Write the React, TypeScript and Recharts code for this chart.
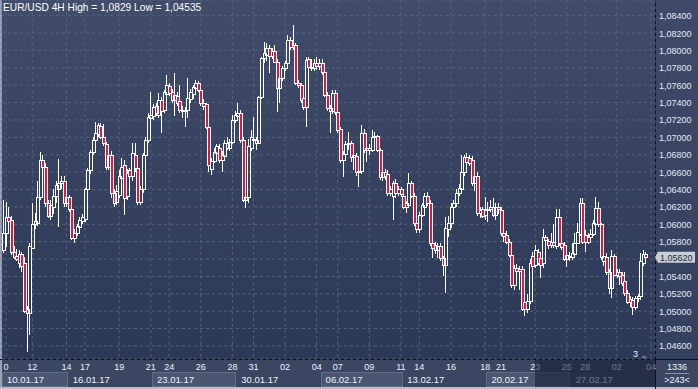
import React from "react";
import { ComposedChart, Bar, XAxis, YAxis, CartesianGrid, ReferenceLine } from "recharts";

// EUR/USD 4H candles, 10.01.17 .. 03.03.17
const opens = [
  1.0570, 1.0590, 1.0608, 1.0605, 1.0568, 1.0564, 1.0556, 1.0566, 1.0555, 1.0502,
  1.0498, 1.0573, 1.0600, 1.0602, 1.0631, 1.0674, 1.0666, 1.0625, 1.0610, 1.0620,
  1.0632, 1.0640, 1.0648, 1.0650, 1.0625, 1.0631, 1.0617, 1.0584, 1.0590, 1.0597,
  1.0604, 1.0606, 1.0640, 1.0662, 1.0683, 1.0697, 1.0704, 1.0713, 1.0700, 1.0692,
  1.0666, 1.0680, 1.0636, 1.0626, 1.0634, 1.0653, 1.0668, 1.0632, 1.0662, 1.0655,
  1.0680, 1.0665, 1.0626, 1.0640, 1.0680, 1.0697, 1.0722, 1.0724, 1.0736, 1.0726,
  1.0743, 1.0731, 1.0750, 1.0759, 1.0752, 1.0743, 1.0748, 1.0742, 1.0730, 1.0730,
  1.0731, 1.0744, 1.0750, 1.0757, 1.0763, 1.0755, 1.0740, 1.0738, 1.0712, 1.0664,
  1.0673, 1.0682, 1.0688, 1.0674, 1.0678, 1.0693, 1.0688, 1.0695, 1.0720, 1.0725,
  1.0728, 1.0697, 1.0628, 1.0631, 1.0688, 1.0698, 1.0697, 1.0694, 1.0746, 1.0791,
  1.0795, 1.0803, 1.0794, 1.0799, 1.0787, 1.0757, 1.0768, 1.0780, 1.0785, 1.0812,
  1.0804, 1.0806, 1.0763, 1.0760, 1.0745, 1.0735, 1.0790, 1.0781, 1.0780,
  1.0786, 1.0782, 1.0786, 1.0775, 1.0749, 1.0734, 1.0730, 1.0751, 1.0729, 1.0710,
  1.0674, 1.0681, 1.0692, 1.0694, 1.0677, 1.0679, 1.0660, 1.0661, 1.0705, 1.0685,
  1.0688, 1.0686, 1.0700, 1.0701, 1.0686, 1.0654, 1.0660, 1.0658, 1.0636, 1.0632,
  1.0648, 1.0636, 1.0640, 1.0632, 1.0620, 1.0622, 1.0647, 1.0633, 1.0602, 1.0594,
  1.0611, 1.0620, 1.0632, 1.0625, 1.0578, 1.0576, 1.0570, 1.0575, 1.0561, 1.0553,
  1.0595, 1.0601, 1.0620, 1.0624, 1.0636, 1.0640, 1.0660, 1.0677, 1.0676, 1.0674,
  1.0647, 1.0655, 1.0613, 1.0617, 1.0611, 1.0616, 1.0618, 1.0620, 1.0611, 1.0620,
  1.0616, 1.0590, 1.0588, 1.0580, 1.0565, 1.0530, 1.0550, 1.0546, 1.0548, 1.0510,
  1.0502, 1.0512, 1.0564, 1.0553, 1.0568, 1.0561, 1.0555, 1.0585, 1.0581, 1.0576,
  1.0580, 1.0575, 1.0608, 1.0578, 1.0576, 1.0560, 1.0564, 1.0562, 1.0566, 1.0579,
  1.0589, 1.0624, 1.0588, 1.0580, 1.0585, 1.0589, 1.0600, 1.0619, 1.0600, 1.0558,
  1.0562, 1.0545, 1.0527, 1.0563, 1.0542, 1.0545, 1.0542, 1.0535, 1.0521, 1.0511,
  1.0513, 1.0505, 1.0515, 1.0517, 1.0556, 1.0566,
];
const highs = [
  1.0628, 1.0626, 1.0620, 1.0610, 1.0575, 1.0572, 1.0570, 1.0568, 1.0562, 1.0506,
  1.0578, 1.0625, 1.0613, 1.0650, 1.0683, 1.0680, 1.0670, 1.0628, 1.0628, 1.0640,
  1.0650, 1.0675, 1.0655, 1.0655, 1.0635, 1.0634, 1.0620, 1.0595, 1.0600, 1.0608,
  1.0612, 1.0642, 1.0665, 1.0686, 1.0700, 1.0718, 1.0717, 1.0716, 1.0715, 1.0695,
  1.0690, 1.0684, 1.0640, 1.0645, 1.0662, 1.0676, 1.0674, 1.0664, 1.0665, 1.0693,
  1.0693, 1.0668, 1.0644, 1.0682, 1.0700, 1.0728, 1.0752, 1.0738, 1.0740, 1.0751,
  1.0746, 1.0755, 1.0772, 1.0763, 1.0756, 1.0774, 1.0752, 1.0760, 1.0736, 1.0735,
  1.0768, 1.0756, 1.0760, 1.0766, 1.0765, 1.0757, 1.0744, 1.0740, 1.0714, 1.0676,
  1.0688, 1.0692, 1.0692, 1.0684, 1.0697, 1.0700, 1.0698, 1.0726, 1.0730, 1.0740,
  1.0731, 1.0700, 1.0634, 1.0698, 1.0708, 1.0723, 1.0700, 1.0748, 1.0793, 1.0810,
  1.0808, 1.0806, 1.0803, 1.0806, 1.0790, 1.0770, 1.0782, 1.0788, 1.0818, 1.0815,
  1.0829, 1.0808, 1.0766, 1.0762, 1.0748, 1.0793, 1.0792, 1.0790, 1.0790,
  1.0792, 1.0790, 1.0790, 1.0778, 1.0752, 1.0737, 1.0755, 1.0754, 1.0731, 1.0712,
  1.0684, 1.0696, 1.0706, 1.0696, 1.0690, 1.0682, 1.0664, 1.0714, 1.0710, 1.0694,
  1.0692, 1.0708, 1.0706, 1.0703, 1.0688, 1.0664, 1.0664, 1.0663, 1.0644, 1.0650,
  1.0652, 1.0644, 1.0643, 1.0634, 1.0627, 1.0659, 1.0650, 1.0636, 1.0605, 1.0614,
  1.0625, 1.0636, 1.0637, 1.0628, 1.0585, 1.0580, 1.0578, 1.0578, 1.0564, 1.0608,
  1.0610, 1.0625, 1.0628, 1.0640, 1.0646, 1.0680, 1.0680, 1.0682, 1.0680, 1.0678,
  1.0666, 1.0660, 1.0620, 1.0620, 1.0631, 1.0626, 1.0628, 1.0630, 1.0625, 1.0625,
  1.0620, 1.0594, 1.0592, 1.0583, 1.0567, 1.0553, 1.0554, 1.0552, 1.0552, 1.0514,
  1.0520, 1.0560, 1.0568, 1.0576, 1.0572, 1.0566, 1.0595, 1.0588, 1.0583, 1.0590,
  1.0600, 1.0618, 1.0618, 1.0581, 1.0580, 1.0567, 1.0568, 1.0578, 1.0590, 1.0601,
  1.0630, 1.0630, 1.0593, 1.0590, 1.0595, 1.0605, 1.0631, 1.0626, 1.0602, 1.0570,
  1.0567, 1.0548, 1.0570, 1.0566, 1.0549, 1.0548, 1.0545, 1.0545, 1.0524, 1.0517,
  1.0516, 1.0518, 1.0520, 1.0567, 1.0570, 1.0568,
];
const lows = [
  1.0567, 1.0574, 1.0598, 1.0565, 1.0560, 1.0558, 1.0550, 1.0545, 1.0498, 1.04535,
  1.0473, 1.0572, 1.0594, 1.0598, 1.0628, 1.0660, 1.0620, 1.0607, 1.0605, 1.0612,
  1.0625, 1.0597, 1.0640, 1.0620, 1.0620, 1.0614, 1.0582, 1.0578, 1.0586, 1.0590,
  1.0600, 1.0603, 1.0636, 1.0658, 1.0680, 1.0692, 1.0700, 1.0698, 1.0690, 1.0662,
  1.0662, 1.0630, 1.0620, 1.0622, 1.0630, 1.0648, 1.0611, 1.0628, 1.0650, 1.0650,
  1.0660, 1.0622, 1.0622, 1.0636, 1.0676, 1.0694, 1.0705, 1.0720, 1.0725, 1.0722,
  1.0705, 1.0728, 1.0746, 1.0748, 1.0740, 1.0724, 1.0736, 1.0728, 1.0722, 1.0712,
  1.0722, 1.0740, 1.0744, 1.0754, 1.0752, 1.0736, 1.0732, 1.0710, 1.0660, 1.0657,
  1.0670, 1.0672, 1.0671, 1.0660, 1.0674, 1.0685, 1.0684, 1.0692, 1.0716, 1.0720,
  1.0694, 1.0626, 1.0619, 1.0624, 1.0684, 1.0690, 1.0685, 1.0692, 1.0744, 1.0786,
  1.0788, 1.0774, 1.0790, 1.0785, 1.0729, 1.0740, 1.0765, 1.0776, 1.0782, 1.0801,
  1.0800, 1.0760, 1.0757, 1.0740, 1.0732, 1.0712, 1.0778, 1.0776, 1.0776,
  1.0778, 1.0778, 1.0772, 1.0746, 1.0730, 1.0705, 1.0727, 1.0726, 1.0705, 1.0670,
  1.0654, 1.0678, 1.0686, 1.0672, 1.0663, 1.0656, 1.0643, 1.0658, 1.0682, 1.0672,
  1.0680, 1.0683, 1.0690, 1.0683, 1.0651, 1.0650, 1.0651, 1.0633, 1.0632, 1.0605,
  1.0630, 1.0632, 1.0631, 1.0617, 1.0613, 1.0619, 1.0630, 1.0598, 1.0590, 1.0590,
  1.0608, 1.0616, 1.0621, 1.0575, 1.0561, 1.0566, 1.0561, 1.0558, 1.0541, 1.0521,
  1.0585, 1.0596, 1.0605, 1.0620, 1.0632, 1.0636, 1.0656, 1.0668, 1.0667, 1.0644,
  1.0638, 1.0610, 1.0607, 1.0607, 1.0605, 1.0603, 1.0614, 1.0608, 1.0605, 1.0612,
  1.0587, 1.0580, 1.0577, 1.0562, 1.0527, 1.0524, 1.0540, 1.0524, 1.0500, 1.0494,
  1.0498, 1.0508, 1.0537, 1.0550, 1.0553, 1.0538, 1.0550, 1.0578, 1.0572, 1.0573,
  1.0573, 1.0571, 1.0575, 1.0570, 1.0558, 1.0551, 1.0558, 1.0559, 1.0563, 1.0577,
  1.0586, 1.0577, 1.0568, 1.0577, 1.0582, 1.0586, 1.0596, 1.0597, 1.0559, 1.0552,
  1.0542, 1.0520, 1.0515, 1.0540, 1.0538, 1.0530, 1.0529, 1.0518, 1.0508, 1.0505,
  1.0496, 1.0501, 1.0511, 1.0513, 1.0552, 1.0559,
];
const closes = [
  1.0590, 1.0608, 1.0604, 1.0568, 1.0562, 1.0560, 1.0566, 1.0552, 1.0500, 1.0498,
  1.0575, 1.0600, 1.0604, 1.0631, 1.0674, 1.0666, 1.0625, 1.0610, 1.0622, 1.0632,
  1.0645, 1.0648, 1.0650, 1.0625, 1.0631, 1.0617, 1.0584, 1.0590, 1.0598, 1.0605,
  1.0608, 1.0640, 1.0662, 1.0683, 1.0697, 1.0705, 1.0714, 1.0700, 1.0694, 1.0666,
  1.0680, 1.0636, 1.0624, 1.0638, 1.0655, 1.0666, 1.0630, 1.0659, 1.0655, 1.0682,
  1.0665, 1.0626, 1.0640, 1.0680, 1.0697, 1.0723, 1.0726, 1.0735, 1.0728, 1.0743,
  1.0730, 1.0752, 1.0760, 1.0751, 1.0743, 1.0749, 1.0740, 1.0732, 1.0731, 1.0732,
  1.0745, 1.0752, 1.0758, 1.0763, 1.0755, 1.0739, 1.0736, 1.0712, 1.0668, 1.0673,
  1.0683, 1.0690, 1.0674, 1.0680, 1.0694, 1.0688, 1.0695, 1.0720, 1.0726, 1.0728,
  1.0697, 1.0628, 1.0631, 1.0690, 1.0700, 1.0697, 1.0694, 1.0746, 1.0791, 1.0797,
  1.0803, 1.0794, 1.0799, 1.0787, 1.0757, 1.0768, 1.0780, 1.0785, 1.0812, 1.0804,
  1.0806, 1.0763, 1.0760, 1.0743, 1.0735, 1.0789, 1.0781, 1.0780, 1.0786,
  1.0782, 1.0786, 1.0775, 1.0749, 1.0734, 1.0730, 1.0751, 1.0729, 1.0708, 1.0674,
  1.0681, 1.0692, 1.0694, 1.0677, 1.0680, 1.0660, 1.0661, 1.0705, 1.0685, 1.0688,
  1.0686, 1.0700, 1.0701, 1.0686, 1.0654, 1.0660, 1.0655, 1.0636, 1.0640, 1.0647,
  1.0636, 1.0640, 1.0635, 1.0620, 1.0624, 1.0647, 1.0633, 1.0602, 1.0594, 1.0611,
  1.0622, 1.0632, 1.0625, 1.0578, 1.0573, 1.0570, 1.0575, 1.0561, 1.0553, 1.0596,
  1.0601, 1.0620, 1.0625, 1.0636, 1.0642, 1.0660, 1.0677, 1.0672, 1.0670, 1.0647,
  1.0655, 1.0613, 1.0616, 1.0610, 1.0616, 1.0618, 1.0620, 1.0611, 1.0620, 1.0618,
  1.0590, 1.0586, 1.0580, 1.0565, 1.0530, 1.0550, 1.0546, 1.0548, 1.0502, 1.0502,
  1.0512, 1.0555, 1.0552, 1.0570, 1.0556, 1.0553, 1.0585, 1.0582, 1.0576, 1.0580,
  1.0576, 1.0608, 1.0578, 1.0574, 1.0560, 1.0565, 1.0562, 1.0567, 1.0579, 1.0591,
  1.0624, 1.0580, 1.0580, 1.0585, 1.0589, 1.0602, 1.0619, 1.0600, 1.0562, 1.0564,
  1.0545, 1.0527, 1.0563, 1.0542, 1.0545, 1.0540, 1.0532, 1.0521, 1.0511, 1.0514,
  1.0505, 1.0515, 1.0517, 1.0558, 1.0566, 1.0562,
];

// bottom axis: day numbers and week boxes (candle index where they sit)
const dayTicks = [1, 11, 24, 31, 44, 56, 63, 75, 87, 95, 107, 119, 127, 139, 151, 158, 170, 183, 189, 202, 214, 221, 233, 246];
const dayLabels = ["0", "12", "14", "17", "19", "21", "24", "26", "28", "31", "02", "04", "07", "09", "11", "14", "16", "18", "21", "23", "25", "28", "02", "04"];
const weekStarts = [0, 25, 57, 89, 121, 152, 184, 216];
const weekLabels = ["10.01.17", "16.01.17", "23.01.17", "30.01.17", "06.02.17", "13.02.17", "20.02.17", "27.02.17"];

const priceTicks = [
  1.046, 1.048, 1.05, 1.052, 1.054, 1.056, 1.058, 1.06, 1.062, 1.064,
  1.066, 1.068, 1.07, 1.072, 1.074, 1.076, 1.078, 1.08, 1.082, 1.084,
];

const W = 698;
const H = 389;
const SLOTS = 248; // a few empty slots on the right, like the terminal
const LEFT = 2;
const AXIS_W = 43;
const BAND = (W - LEFT - AXIS_W) / SLOTS;
const FONT = '"Liberation Sans", Arial, sans-serif';
const TXT = "#eef2f8";

const lastClose = closes[closes.length - 1];
const fmt = (v: number) => v.toFixed(5).replace(".", ",");

const data = Array.from({ length: SLOTS }, (_, i) =>
  i < closes.length ? { i, o: opens[i], h: highs[i], l: lows[i], c: closes[i] } : { i }
);
const range = (d: any) => (d.h == null ? null : [d.l, d.h]);

const Candle = (props: any) => {
  const { x, y, width, height, payload } = props;
  if (!payload || payload.h == null || !isFinite(y)) return <g />;
  const { o, h, l, c } = payload;
  const span = h - l || 1e-9;
  const py = (p: number) => y + ((h - p) / span) * height;
  const cx = Math.round(x + width / 2 - 0.5) + 0.5;
  const top = Math.round(py(Math.max(o, c))) + 0.5;
  let bot = Math.round(py(Math.min(o, c))) + 0.5;
  if (bot < top + 1) bot = top + 1;
  const up = c >= o;
  return (
    <g shapeRendering="crispEdges">
      <line x1={cx} x2={cx} y1={py(h)} y2={top} stroke="#fff" />
      <line x1={cx} x2={cx} y1={bot} y2={py(l)} stroke="#fff" />
      <rect x={cx - 1} y={top} width={3} height={bot - top} fill={up ? "none" : "#e3163e"} stroke="#fff" />
    </g>
  );
};

const DayTick = ({ x, y, payload }: any) => {
  const k = dayTicks.indexOf(payload.value);
  return (
    <text x={x} y={y} textAnchor="middle" fontSize={9} fontFamily={FONT} fill={TXT}>
      {dayLabels[k]}
    </text>
  );
};

const WeekTick = ({ x, y, payload }: any) => {
  const k = weekStarts.indexOf(payload.value);
  const left = x - BAND / 2;
  const right = k < weekStarts.length - 1 ? left + (weekStarts[k + 1] - weekStarts[k]) * BAND : W - AXIS_W;
  return (
    <g>
      {k % 2 === 0 && (
        <rect x={Math.round(left) + 0.5} y={y + 0.5} width={Math.round(right - left) - 1} height={14}
          fill="#4a5672" stroke="#5f6b87" />
      )}
      <text x={left + 5} y={y + 11} fontSize={9.5} fontFamily={FONT} fill={TXT}>
        {weekLabels[k]}
      </text>
    </g>
  );
};

const PriceTick = ({ x, y, payload }: any) => {
  if (Math.abs(payload.value - lastClose) < 0.0009) return <g />;
  return (
    <text x={x} y={y + 3.5} fontSize={9} fontFamily={FONT} fill="#e2e8f4">
      {fmt(payload.value)}
    </text>
  );
};

const PriceTag = (props: any) => {
  const vb = props.viewBox || {};
  const x = vb.x + vb.width;
  const y = vb.y;
  return (
    <g>
      <path d={`M${x} ${y} L${x + 3} ${y - 5.5} H${x + 40} V${y + 5.5} H${x + 3} Z`} fill="#c8cdd6" />
      <text x={x + 5} y={y + 3.5} fontSize={9} fontFamily={FONT} fill="#262b36">
        {fmt(lastClose)}
      </text>
    </g>
  );
};

const abs = (s: React.CSSProperties): React.CSSProperties => ({ position: "absolute", ...s });

export default function App() {
  return (
    <div style={{ position: "fixed", left: 0, top: 0, width: W, height: H, overflow: "hidden", background: "#3a4662", fontFamily: FONT }}>
      <div style={abs({ left: 0, top: 0, width: 655, height: 359, background: "linear-gradient(#404c69, #2b3856)" })} />
      <div style={abs({ left: 656, top: 0, width: 42, height: 359, background: "linear-gradient(#3e4a67, #33405e)" })} />
      <div style={abs({ left: 0, top: 0, width: 2, height: H, background: "#9aa3b5" })} />
      <div style={abs({ left: 0, top: 387, width: W, height: 2, background: "#b9c0cb" })} />
      <div style={abs({ left: 655, top: 0, width: 1, height: H, background: "#0d121c" })} />
      <div style={abs({ left: 0, top: 359, width: W, height: 1, background: "#0d121c" })} />
      <div style={abs({ left: 0, top: 0 })}>
        <ComposedChart width={W} height={H} data={data} margin={{ top: 0, right: 0, bottom: 2, left: LEFT }} barCategoryGap={0}>
          <CartesianGrid stroke="#55617e" strokeDasharray="3 3" />
          <XAxis dataKey="i" type="category" ticks={dayTicks} interval={0} tick={<DayTick />}
            tickSize={0} tickMargin={11} axisLine={false} tickLine={false} height={13} />
          <XAxis xAxisId="w" dataKey="i" type="category" ticks={weekStarts} interval={0} tick={<WeekTick />}
            tickSize={0} tickMargin={0} axisLine={false} tickLine={false} height={15} />
          <YAxis orientation="right" type="number" domain={[1.0445, 1.0858]} allowDataOverflow ticks={priceTicks}
            interval={0} tick={<PriceTick />} tickSize={0} tickMargin={4} axisLine={false} tickLine={false} width={AXIS_W} />
          <Bar dataKey={range} shape={<Candle />} isAnimationActive={false} />
          <ReferenceLine y={lastClose} stroke="none" ifOverflow="visible" label={<PriceTag />} />
        </ComposedChart>
      </div>
      <svg width={W} height={H} style={abs({ left: 0, top: 0, pointerEvents: "none" })} fontFamily={FONT}>
        <rect x={535} y={360} width={120} height={27} fill="#18203a" opacity={0.6} />
        <text x={3} y={11} fontSize={10.2} fill="#ffffff">EUR/USD 4H High = 1,0829 Low = 1,04535</text>
        <text x={633} y={357} fontSize={9} fill={TXT}>3</text>
        <path d="M641 358 L644 355 L647 358 Z" fill="#6c7690" />
        <text x={677} y={370} fontSize={9} fill={TXT} textAnchor="middle">1336</text>
        <line x1={665} x2={689} y1={373.5} y2={373.5} stroke="#8c95a8" />
        <text x={677} y={383} fontSize={9} fill={TXT} textAnchor="middle">&gt;243&lt;</text>
      </svg>
    </div>
  );
}
